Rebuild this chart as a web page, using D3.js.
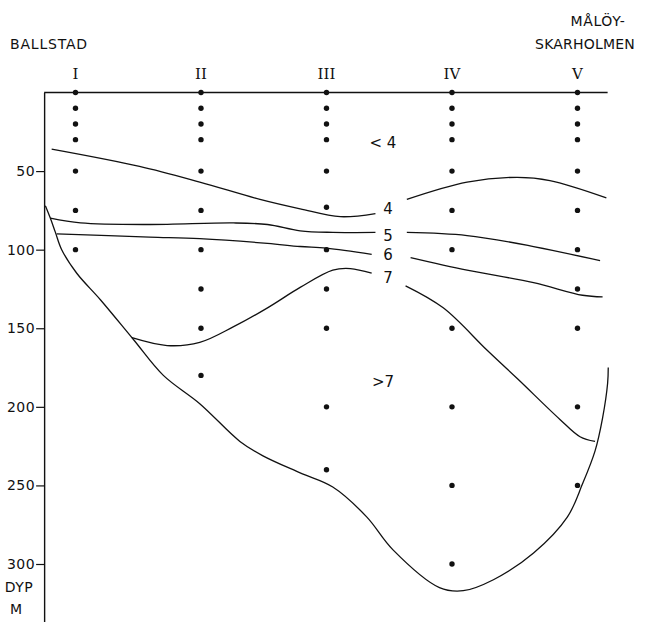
<!DOCTYPE html>
<html>
<head>
<meta charset="utf-8">
<script src="https://cdn.jsdelivr.net/npm/d3@7"></script>
<style>
  body { margin: 0; background: #fff; }
  text { font-family: "DejaVu Sans", sans-serif; fill: #111; }
</style>
</head>
<body>
<svg id="chart" width="647" height="622"></svg>
<script>
// stations along the section
const stations = ["I", "II", "III", "IV", "V"];
const sampleDepths = [
  [0, 10, 20, 30, 50, 75, 100],
  [0, 10, 20, 30, 50, 75, 100, 125, 150, 180],
  [0, 10, 20, 30, 50, 73, 100, 125, 150, 200, 240],
  [0, 10, 20, 30, 50, 75, 100, 150, 200, 250, 300],
  [0, 10, 20, 30, 50, 75, 100, 125, 150, 200, 250]
];
const depthTicks = [50, 100, 150, 200, 250, 300];
const sectionX = [0.75, 5.24];
const depthExtent = [0, 337];

// [station position, depth m]
const bottom = [[0.76,72],[0.80,80],[0.84,89],[0.89,100],[1.01,115],[1.20,132],[1.46,157],
  [1.70,180],[1.99,198],[2.31,222],[2.49,231],[2.79,242],[3.05,251],[3.32,270],[3.53,291],
  [3.90,315],[4.09,317],[4.33,310],[4.65,293],[4.92,270],[5.04,249],[5.14,228],[5.20,207],
  [5.24,185],[5.245,175]];
const iso4a = [[0.81,36],[1.51,47],[1.99,57],[2.47,68],[2.79,74],[3.11,79],[3.39,77]];
const iso4b = [[3.64,68],[4.12,57],[4.52,54],[4.78,56],[5.23,67]];
const iso5a = [[0.80,80],[1.04,83],[1.59,84],[2.26,83],[2.53,84],[2.79,88],[3.05,89],[3.39,89]];
const iso5b = [[3.64,89],[4.12,91],[4.65,98],[5.18,107]];
const iso6a = [[0.85,90],[1.59,92],[1.99,93],[2.53,96],[2.79,98],[3.00,99],[3.36,103]];
const iso6b = [[3.67,105],[4.12,113],[4.65,121],[5.04,129],[5.20,130]];
const iso7a = [[1.45,156],[1.73,161],[1.99,159],[2.26,149],[2.53,137],[2.79,124],[3.05,113],[3.19,112],[3.36,115]];
const iso7b = [[3.63,123],[3.93,137],[4.28,164],[4.52,182],[4.86,208],[5.02,219],[5.14,222]];

const isoLabels = [
  { t: "< 4", s: 3.45, d: 32 },
  { t: "4", s: 3.49, d: 74 },
  { t: "5", s: 3.49, d: 91 },
  { t: "6", s: 3.49, d: 103 },
  { t: "7", s: 3.49, d: 118 },
  { t: ">7", s: 3.45, d: 184 }
];

const svg = d3.select("#chart");

const x = d3.scaleLinear().domain([1, 5]).range([75.5, 577.5]);
const y = d3.scaleLinear().domain([0, 300]).range([92.5, 564]);

const line = d3.line()
  .x(d => x(d[0]))
  .y(d => y(d[1]))
  .curve(d3.curveCatmullRom.alpha(0.5));

// depth axis
const axis = svg.append("g")
  .attr("transform", `translate(${x(sectionX[0])},0)`)
  .call(d3.axisLeft(y.copy().domain(depthExtent).range([y(depthExtent[0]), y(depthExtent[1])]))
    .tickValues(depthTicks).tickSize(8).tickPadding(1).tickSizeOuter(0));
axis.select(".domain").attr("stroke", "#111").attr("stroke-width", 1.4);
axis.selectAll(".tick line").attr("stroke", "#111").attr("stroke-width", 1.2);
axis.selectAll(".tick text")
  .attr("font-family", "DejaVu Sans")
  .attr("font-size", 14)
  .attr("letter-spacing", 0.5)
  .attr("fill", "#111");

// sea surface
svg.append("line")
  .attr("x1", x(sectionX[0])).attr("x2", x(sectionX[1]))
  .attr("y1", y(0)).attr("y2", y(0))
  .attr("stroke", "#111").attr("stroke-width", 1.4);

// bottom and isolines
svg.selectAll("path.iso")
  .data([bottom, iso4a, iso4b, iso5a, iso5b, iso6a, iso6b, iso7a, iso7b])
  .enter()
  .append("path")
  .attr("class", "iso")
  .attr("d", line)
  .attr("fill", "none")
  .attr("stroke", "#111")
  .attr("stroke-width", 1.3);

// sample points
stations.forEach((s, i) => {
  svg.selectAll(null)
    .data(sampleDepths[i])
    .enter()
    .append("circle")
    .attr("cx", x(i + 1))
    .attr("cy", d => y(d))
    .attr("r", 2.7)
    .attr("fill", "#111");
});

// station numerals
svg.selectAll("text.st")
  .data(stations)
  .enter()
  .append("text")
  .attr("class", "st")
  .attr("x", (d, i) => x(i + 1))
  .attr("y", y(0) - 14)
  .attr("text-anchor", "middle")
  .style("font-family", "DejaVu Serif")
  .attr("font-size", 15)
  .text(d => d);

svg.selectAll("text.lab")
  .data(isoLabels)
  .enter()
  .append("text")
  .attr("class", "lab")
  .attr("x", d => x(d.s))
  .attr("y", d => y(d.d))
  .attr("dy", "0.35em")
  .attr("text-anchor", "middle")
  .attr("font-size", 15)
  .text(d => d.t);

// place names
svg.append("text").attr("x", 10).attr("y", 49).attr("font-size", 14)
  .attr("letter-spacing", 0.8).text("BALLSTAD");
svg.append("text").attr("x", 598).attr("y", 26).attr("font-size", 14)
  .attr("text-anchor", "middle").attr("letter-spacing", 0.6).text("MÅLÖY-");
svg.append("text").attr("x", 585).attr("y", 49).attr("font-size", 14)
  .attr("text-anchor", "middle").attr("letter-spacing", 0.2).text("SKARHOLMEN");

// axis title
svg.append("text").attr("x", 19).attr("y", 592).attr("font-size", 14)
  .attr("text-anchor", "middle").attr("letter-spacing", 0.5).text("DYP");
svg.append("text").attr("x", 16).attr("y", 614).attr("font-size", 14)
  .attr("text-anchor", "middle").text("M");
</script>
</body>
</html>
